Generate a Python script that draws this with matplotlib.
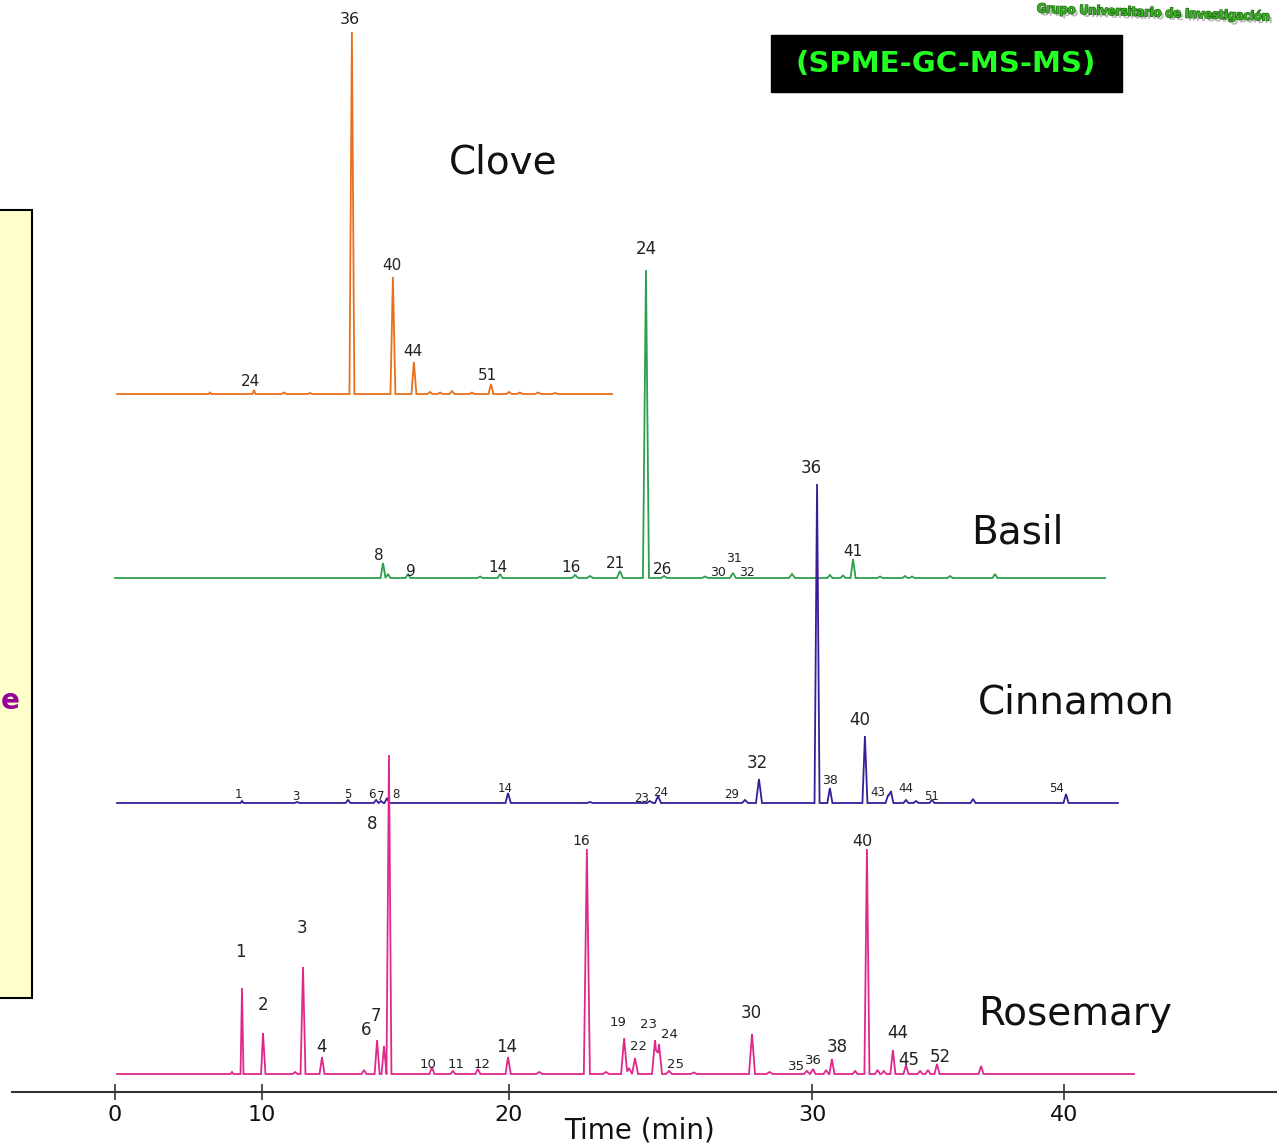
import numpy as np
import matplotlib
matplotlib.use("Agg")
import matplotlib.pyplot as plt
from matplotlib.patches import Rectangle
import matplotlib.patheffects as pe

# ---- data: retention time (min) and peak height (arbitrary units) ----
CLOVE_T = [6.46, 9.46, 10.89, 11.94, 13.64, 15.30, 16.15, 16.80, 17.21, 17.69,
           18.50, 19.27, 20.00, 20.36, 20.96, 21.52]
CLOVE_H = [1.5, 4, 1.5, 1, 362, 117, 32, 2, 1.5, 3, 1.5, 10, 2, 1.5, 1.5, 1]
CLOVE_RANGE = (0.14, 23.40)

BASIL_T = [14.90, 15.10, 15.91, 18.83, 19.64, 22.18, 22.67, 23.66, 24.52, 25.12,
           26.47, 27.39, 29.34, 30.71, 31.23, 31.63, 32.70, 33.69, 33.97, 35.48, 37.26]
BASIL_H = [15, 4, 4, 1.5, 4, 3, 2, 7, 308, 2, 1.5, 5, 4, 3, 2.5, 19, 1.5, 2, 1.5, 2, 4]
BASIL_RANGE = (0.0, 41.63)

CINNAMON_T = [8.64, 11.42, 13.48, 14.62, 14.82, 15.06, 19.96, 22.67, 24.65, 24.92,
              27.79, 28.25, 30.20, 30.71, 32.10, 33.02, 33.13, 33.73, 34.13, 34.76,
              36.39, 40.08]
CINNAMON_H = [2, 1, 3, 3, 2, 5, 10, 1, 2, 7, 3, 24, 319, 15, 67, 8, 12, 3, 2, 3, 4, 9]
CINNAMON_RANGE = (0.14, 42.14)

ROSEMARY_T = [7.96, 8.64, 10.04, 11.34, 11.66, 12.43, 14.13, 14.66, 14.94, 15.14,
              16.88, 17.73, 18.74, 19.96, 21.00, 22.57, 23.20, 23.80, 23.96, 24.16,
              24.82, 24.95, 25.28, 26.10, 28.02, 28.60, 29.83, 30.04, 30.56, 30.79,
              31.71, 32.18, 32.60, 32.85, 33.21, 33.73, 34.29, 34.60, 34.96, 36.71]
ROSEMARY_H = [2, 86, 41, 2, 107, 17, 4, 34, 28, 319,
              7, 3, 5, 17, 2, 225, 2, 36, 6, 16,
              34, 30, 3, 1.5, 40, 2, 3, 5, 4, 15,
              3, 225, 4, 3, 24, 9, 3, 4, 10, 8]
ROSEMARY_RANGE = (0.14, 42.78)

TICK_TIMES = [0, 10, 20, 30, 40]
TICK_LABELS = ["0", "10", "20", "30", "40"]

# ---- peak number labels: (text, time, level above baseline, fontsize) ----
CLOVE_LABELS = [("36", 13.56, 374, 11.5), ("40", 15.26, 128, 11), ("44", 16.11, 42, 11),
                ("51", 19.11, 18, 11), ("24", 9.25, 12, 11)]
BASIL_LABELS = [("8", 14.74, 23, 11), ("9", 16.03, 7, 11), ("14", 19.55, 11, 11),
                ("16", 22.05, 11, 11), ("21", 23.50, 14, 11), ("24", 24.52, 329, 12),
                ("26", 25.08, 8, 11), ("30", 26.90, 6, 9), ("31", 27.43, 19, 9),
                ("32", 27.85, 6, 9), ("41", 31.63, 26, 11)]
CINNAMON_LABELS = [("1", 8.37, 9, 8.5), ("3", 11.38, 6, 8.5), ("5", 13.48, 9, 8.5),
                   ("6", 14.45, 9, 8.5), ("7", 14.82, 6, 8.5), ("8", 15.43, 8, 8.5),
                   ("14", 19.84, 14, 8.5), ("23", 24.39, 4, 8.5), ("24", 25.02, 10, 8.5),
                   ("29", 27.36, 8, 8.5), ("32", 28.18, 40, 12), ("36", 29.97, 335, 12),
                   ("38", 30.71, 22, 9), ("40", 31.90, 83, 12), ("43", 32.62, 11, 8.5),
                   ("44", 33.73, 14, 8.5), ("51", 34.76, 6, 8.5), ("54", 39.72, 14, 8.5)]
ROSEMARY_LABELS = [("1", 8.50, 122, 12), ("2", 10.04, 69, 12), ("3", 11.62, 146, 12),
                   ("4", 12.39, 27, 12), ("6", 14.21, 44, 12), ("7", 14.62, 58, 12),
                   ("8", 14.45, 250, 12), ("10", 16.72, 10, 9.5), ("11", 17.85, 9, 9.5),
                   ("12", 18.91, 10, 9.5), ("14", 19.92, 27, 12), ("16", 22.38, 233, 10),
                   ("19", 23.60, 52, 9.5), ("22", 24.26, 27, 9.5), ("23", 24.62, 50, 9.5),
                   ("24", 25.31, 40, 9.5), ("25", 25.51, 10, 9.5), ("30", 27.99, 61, 12),
                   ("35", 29.50, 7, 9.5), ("36", 30.04, 13, 9.5), ("38", 31.00, 27, 12),
                   ("40", 31.98, 233, 11.5), ("44", 33.41, 41, 12), ("45", 33.85, 14, 12),
                   ("52", 35.08, 17, 12)]

# ---- layout (figure is 1277 x 1147 px, axes covers it, y unit = 1 px) ----
W, H = 1277, 1147
# the time axis of the original is not linear: calibration time -> pixel
AXIS_T = [-60, 0, 10, 20, 30, 40, 100]
AXIS_PX = [-767, 115, 262, 509, 812, 1064, 2576]


def fwd(t):
    return np.interp(t, AXIS_T, AXIS_PX)


def inv(p):
    return np.interp(p, AXIS_PX, AXIS_T)


def build_trace(times, heights, t_range, hw=0.1):
    times = np.asarray(times, float)
    xs = np.unique(np.concatenate([list(t_range), times - hw, times, times + hw]))
    xs = xs[(xs >= t_range[0]) & (xs <= t_range[1])]
    ys = np.zeros_like(xs)
    for t, h in zip(times, heights):
        ys += np.interp(xs, [t - hw, t, t + hw], [0, h, 0])
    return xs, ys


fig = plt.figure(figsize=(W / 100, H / 100), dpi=100)
ax = fig.add_axes([0, 0, 1, 1])
ax.set_xscale("function", functions=(fwd, inv))
ax.set_xlim(inv(0), inv(W))
ax.set_ylim(0, H)

traces = [
    ("Clove", CLOVE_T, CLOVE_H, CLOVE_RANGE, CLOVE_LABELS, "#e8701a", 753, (503, 162)),
    ("Basil", BASIL_T, BASIL_H, BASIL_RANGE, BASIL_LABELS, "#2e9e4f", 569, (1017, 532)),
    ("Cinnamon", CINNAMON_T, CINNAMON_H, CINNAMON_RANGE, CINNAMON_LABELS, "#3a1c9a", 344, (1076, 702)),
    ("Rosemary", ROSEMARY_T, ROSEMARY_H, ROSEMARY_RANGE, ROSEMARY_LABELS, "#e0288c", 73, (1075, 1014)),
]

for z, (name, tt, hh, rng, labels, col, base, name_pos) in enumerate(traces):
    xs, ys = build_trace(tt, hh, rng)
    ax.plot(xs, ys + base, color=col, lw=1.3, zorder=2 + z, solid_joinstyle="miter")
    for txt, lt, lvl, fs in labels:
        ax.text(lt, base + lvl, txt, ha="center", va="center", fontsize=fs,
                color="#222222", zorder=10)
    fig.text(name_pos[0] / W, 1 - name_pos[1] / H, name, ha="center", va="center",
             fontsize=28, color="#111111")

# time axis
axis_y = 55
for s in ["top", "left", "right"]:
    ax.spines[s].set_visible(False)
ax.spines["bottom"].set_position(("data", axis_y))
ax.spines["bottom"].set_bounds(inv(12), inv(W))
ax.spines["bottom"].set_linewidth(1.5)
ax.spines["bottom"].set_color("#333333")
ax.set_yticks([])
ax.set_xticks(TICK_TIMES)
ax.set_xticklabels(TICK_LABELS)
ax.xaxis.set_minor_locator(matplotlib.ticker.NullLocator())
ax.tick_params(axis="x", direction="inout", length=11, width=1.2, color="#333333",
               labelsize=16, pad=4, labelcolor="#111111")
fig.text(640 / W, 1 - 1131 / H, "Time (min)", ha="center", va="center",
         fontsize=20, color="#111111")

# left yellow panel (cut off)
fig.patches.append(Rectangle((-10 / W, 1 - 998 / H), 42 / W, 788 / H,
                             transform=fig.transFigure, facecolor="#ffffcc",
                             edgecolor="black", lw=1.5, zorder=0))
fig.text(1 / W, 1 - 701 / H, "e", ha="left", va="center", fontsize=20,
         fontweight="bold", color="#990099")

# technique box
fig.patches.append(Rectangle((771 / W, 1 - 92 / H), 351 / W, 57 / H,
                             transform=fig.transFigure, facecolor="black",
                             edgecolor="black", zorder=0))
fig.text(946 / W, 1 - 64 / H, "(SPME-GC-MS-MS)", ha="center", va="center",
         fontsize=21, fontweight="bold", color="#22ff22")

# logo fragment, top right
fig.text(1272 / W, 1 - 13 / H, "Grupo Universitario de Investigación",
         ha="right", va="center", fontsize=9, fontweight="bold", rotation=-2,
         family="DejaVu Sans", fontstretch="condensed", color="#3fae2a",
         path_effects=[pe.withSimplePatchShadow(offset=(2, -2), shadow_rgbFace="#888888", alpha=0.6),
                       pe.withStroke(linewidth=1.0, foreground="#1d6b12")])

fig.savefig("out.png", dpi=100)
